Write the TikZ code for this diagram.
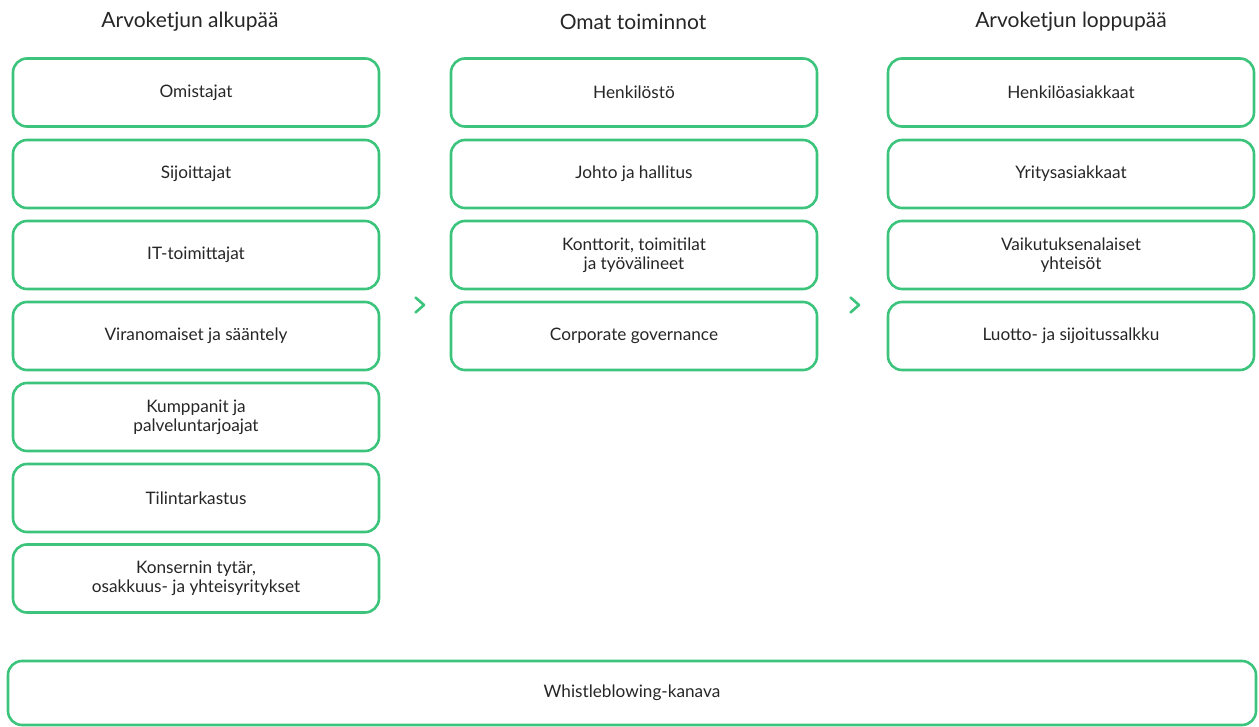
\documentclass[tikz,border=0pt]{standalone}
\usepackage{fontspec}
\setmainfont{Lato}
\definecolor{grn}{HTML}{3CC47C}
\begin{document}
\begin{tikzpicture}[x=1pt,y=-1pt,
  box/.style={draw=grn,line width=2.6pt,rounded corners=14pt,minimum width=366pt,minimum height=68pt,align=center,font=\fontsize{17.2}{19}\selectfont,text=black!85,inner sep=0pt},
  hdr/.style={font=\fontsize{21}{24}\selectfont,text=black!85},
  chev/.style={draw=grn,line width=2.6pt,line cap=round,line join=round}]
\useasboundingbox (0,0) rectangle (1259,727);
\node[hdr] (h1) at (190,22) {Arvoketjun alkupää};
\node[hdr] (h2) at (633,22) {Omat toiminnot};
\node[hdr] (h3) at (1071,22) {Arvoketjun loppupää};
\node[box] (a1) at (196,92.5) {Omistajat};
\node[box] (a2) at (196,174) {Sijoittajat};
\node[box] (a3) at (196,255) {IT-toimittajat};
\node[box] (a4) at (196,336) {Viranomaiset ja sääntely};
\node[box] (a5) at (196,417) {Kumppanit ja\\palveluntarjoajat};
\node[box] (a6) at (196,498) {Tilintarkastus};
\node[box] (a7) at (196,578.5) {Konsernin tytär,\\osakkuus- ja yhteisyritykset};
\node[box] (b1) at (634,92.5) {Henkilöstö};
\node[box] (b2) at (634,174) {Johto ja hallitus};
\node[box] (b3) at (634,255) {Konttorit, toimitilat\\ja työvälineet};
\node[box] (b4) at (634,336) {Corporate governance};
\node[box] (c1) at (1071,92.5) {Henkilöasiakkaat};
\node[box] (c2) at (1071,174) {Yritysasiakkaat};
\node[box] (c3) at (1071,255) {Vaikutuksenalaiset\\yhteisöt};
\node[box] (c4) at (1071,336) {Luotto- ja sijoitussalkku};
\node[box,minimum width=1248pt,minimum height=64pt] (w) at (632,693) {Whistleblowing-kanava};
\coordinate (k1) at (420,305);
\coordinate (k2) at (855,305);
\draw[chev] ([shift={(-4.5,-7.5)}]k1) -- ([shift={(4,0)}]k1) -- ([shift={(-4.5,7.5)}]k1);
\draw[chev] ([shift={(-4.5,-7.5)}]k2) -- ([shift={(4,0)}]k2) -- ([shift={(-4.5,7.5)}]k2);
\end{tikzpicture}
\end{document}
